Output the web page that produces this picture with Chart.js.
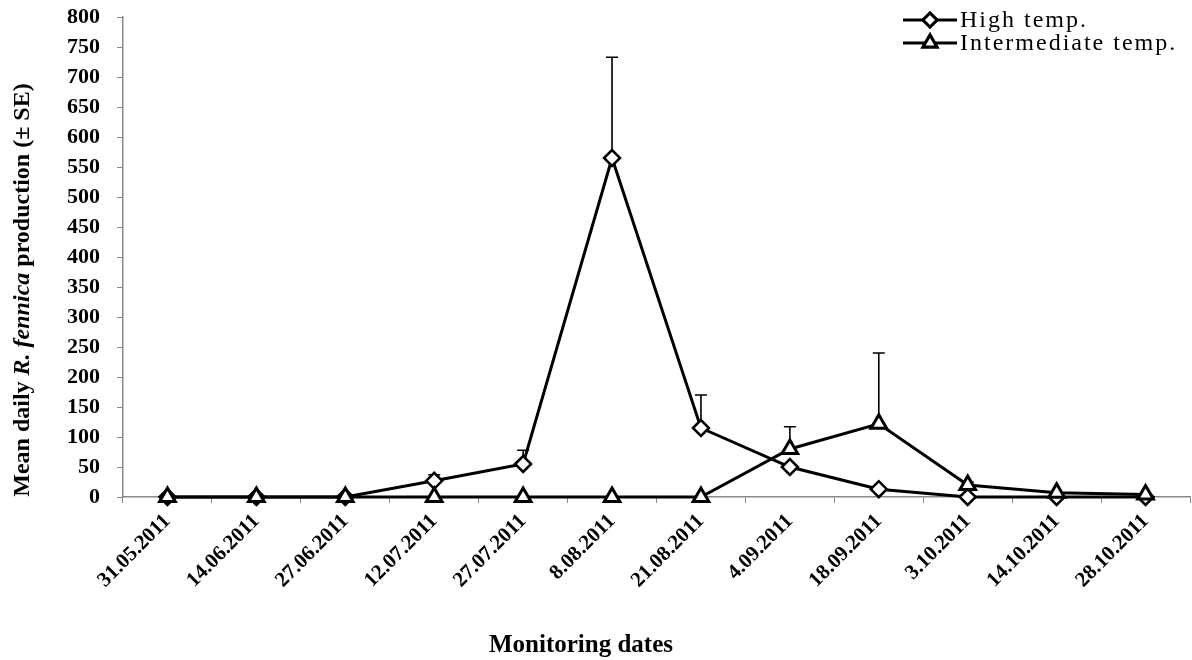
<!DOCTYPE html>
<html>
<head>
<meta charset="utf-8">
<script src="https://cdn.jsdelivr.net/npm/chart.js@4.4.0/dist/chart.umd.min.js"></script>
<style>
  html, body { margin: 0; padding: 0; background: #fff; }
  #wrap { width: 1192px; height: 660px; }
</style>
</head>
<body>
<div id="wrap"><canvas id="myChart" width="1192" height="660"></canvas></div>
<script>
// data
var dates = ["31.05.2011", "14.06.2011", "27.06.2011", "12.07.2011", "27.07.2011", "8.08.2011",
  "21.08.2011", "4.09.2011", "18.09.2011", "3.10.2011", "14.10.2011", "28.10.2011"];
var highTemp = [0, 0, 0, 27, 55, 565, 115, 50, 13, 0, 0, 0];
var highSE = [0, 0, 0, 10, 23, 168, 55, 0, 0, 0, 0, 0];
var midTemp = [0, 0, 0, 0, 0, 0, 0, 80, 122, 20, 7, 4];
var midSE = [0, 0, 0, 0, 0, 0, 0, 37, 118, 5, 0, 0];
var seriesNames = ["High temp.", "Intermediate temp."];
var xTitle = "Monitoring dates";

var serif = "'Liberation Serif', 'Times New Roman', serif";
var axisGray = "#888888";

// upper error bars, drawn under the markers
var errorBars = {
  id: "errorBars",
  beforeDatasetsDraw: function (chart) {
    var ctx = chart.ctx;
    var y = chart.scales.y;
    var seList = [highSE, midSE];
    ctx.save();
    ctx.strokeStyle = "#000";
    ctx.lineWidth = 1.6;
    chart.data.datasets.forEach(function (ds, i) {
      var meta = chart.getDatasetMeta(i);
      meta.data.forEach(function (pt, j) {
        var se = seList[i][j];
        if (!se) return;
        var top = y.getPixelForValue(ds.data[j] + se);
        ctx.beginPath();
        ctx.moveTo(pt.x, pt.y);
        ctx.lineTo(pt.x, top);
        ctx.moveTo(pt.x - 6, top);
        ctx.lineTo(pt.x + 6, top);
        ctx.stroke();
      });
    });
    ctx.restore();
  }
};

// axis titles (y one has an italic species name) and the legend
var extras = {
  id: "extras",
  afterDraw: function (chart) {
    var ctx = chart.ctx;
    ctx.save();
    var parts = [
      ["bold 24px " + serif, "Mean daily "],
      ["italic bold 24px " + serif, "R. fennica"],
      ["bold 24px " + serif, " production (\u00b1 SE)"]
    ];
    var total = 0;
    parts.forEach(function (p) { ctx.font = p[0]; total += ctx.measureText(p[1]).width; });
    ctx.translate(23, 290);
    ctx.rotate(-Math.PI / 2);
    ctx.fillStyle = "#000";
    ctx.textBaseline = "middle";
    ctx.textAlign = "left";
    var x = -total / 2;
    parts.forEach(function (p) {
      ctx.font = p[0];
      ctx.fillText(p[1], x, 0);
      x += ctx.measureText(p[1]).width;
    });
    ctx.restore();

    // x title
    ctx.save();
    ctx.fillStyle = "#000";
    ctx.font = "bold 25px " + serif;
    ctx.textAlign = "center";
    ctx.textBaseline = "middle";
    ctx.fillText(xTitle, 581, 646);
    ctx.restore();

    // legend
    ctx.save();
    chart.data.datasets.forEach(function (ds, i) {
      var ly = 20 + i * 23;
      var lx = 903;
      ctx.strokeStyle = "#000";
      ctx.lineWidth = 3;
      ctx.beginPath();
      ctx.moveTo(lx, ly);
      ctx.lineTo(lx + 54, ly);
      ctx.stroke();
      Chart.helpers.drawPoint(ctx, {
        pointStyle: ds.pointStyle,
        radius: ds.pointStyle === "triangle" ? 8 : 7,
        borderWidth: 3
      }, lx + 27, ly);
      ctx.fillStyle = "#fff";
      ctx.fill();
      ctx.stroke();
      ctx.fillStyle = "#000";
      ctx.font = "24px " + serif;
      ctx.letterSpacing = "2px";
      ctx.textBaseline = "middle";
      ctx.fillText(seriesNames[i], lx + 57, ly + 1);
    });
    ctx.restore();
  }
};

var ctx = document.getElementById("myChart").getContext("2d");
var myChart = new Chart(ctx, {
  type: "line",
  data: {
    labels: dates,
    datasets: [
      {
        label: seriesNames[0],
        data: highTemp,
        order: 1,
        clip: false,
        borderColor: "#000",
        borderWidth: 3,
        pointStyle: "rectRot",
        pointRadius: 8,
        pointBorderWidth: 2.5,
        pointBackgroundColor: "#fff",
        pointBorderColor: "#000",
        tension: 0
      },
      {
        label: seriesNames[1],
        data: midTemp,
        order: 0,
        clip: false,
        borderColor: "#000",
        borderWidth: 3,
        pointStyle: "triangle",
        pointRadius: 9,
        pointBorderWidth: 3,
        pointBackgroundColor: "#fff",
        pointBorderColor: "#000",
        tension: 0
      }
    ]
  },
  options: {
    responsive: false,
    animation: false,
    layout: { autoPadding: false, padding: { top: 17, right: 2, left: 0, bottom: 0 } },
    plugins: {
      legend: { display: false },
      tooltip: { enabled: false }
    },
    scales: {
      x: {
        offset: true,
        grid: {
          offset: true,
          drawOnChartArea: false,
          drawTicks: true,
          tickLength: 6,
          color: axisGray
        },
        border: { display: true, color: axisGray, width: 1.5 },
        ticks: {
          color: "#000",
          font: { family: serif, size: 21, weight: "bold" },
          minRotation: 45,
          maxRotation: 45,
          padding: 6,
          autoSkip: false
        },
        afterFit: function (scale) {
          scale.height = 163;
          scale.paddingLeft = 0;
          scale.paddingRight = 0;
        }
      },
      y: {
        min: 0,
        max: 800,
        grid: {
          drawOnChartArea: false,
          drawTicks: true,
          tickLength: 6,
          color: axisGray
        },
        border: { display: true, color: axisGray, width: 1.5 },
        ticks: {
          stepSize: 50,
          color: "#000",
          font: { family: serif, size: 22, weight: "bold" },
          padding: 17
        },
        afterFit: function (scale) {
          scale.width = 123;
          scale.paddingTop = 0;
          scale.paddingBottom = 0;
        }
      }
    }
  },
  plugins: [errorBars, extras]
});
</script>
</body>
</html>
